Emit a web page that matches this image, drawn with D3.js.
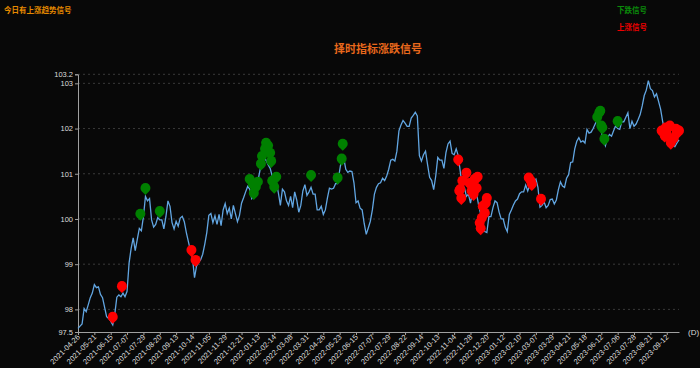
<!DOCTYPE html>
<html>
<head>
	<meta charset="utf-8">
	<script src="https://cdnjs.cloudflare.com/ajax/libs/d3/7.8.5/d3.min.js"></script>
	<style>
	body { margin: 0; background: #080808; }
	svg { display: block; }
	.axis text { font: 7.5px "Liberation Sans", Arial, sans-serif; fill: #dcdcdc; }
	.cn { font-family: "Noto Sans CJK SC", sans-serif; font-weight: bold; }
	</style>
</head>
<body>
	<svg width="700" height="368"></svg>
	<script>
	// tick labels on the category axis, one every 16 trading days
	const tickDates = ["2021-04-26","2021-05-21","2021-06-15","2021-07-07","2021-07-29","2021-08-20","2021-09-13",
		"2021-10-14","2021-11-05","2021-11-29","2021-12-21","2022-01-13","2022-02-14","2022-03-08","2022-03-31",
		"2022-04-26","2022-05-23","2022-06-15","2022-07-07","2022-07-29","2022-08-22","2022-09-14","2022-10-13",
		"2022-11-04","2022-11-28","2022-12-20","2023-01-12","2023-02-10","2023-03-07","2023-03-29","2023-04-21",
		"2023-05-18","2023-06-12","2023-07-06","2023-07-28","2023-08-21","2023-09-12"];
	const tickStep = 16;
	const dayCount = 589;

	const yTicks = [97.5, 98, 99, 100, 101, 102, 103, 103.2];

	// index value, read every 2nd trading day
	const lineStep = 2;
	const indexValues = [
		97.58, 97.63, 97.68, 98.02, 97.95, 98.10, 98.26, 98.36, 98.55, 98.48,
		98.50, 98.33, 98.26, 98.05, 97.84, 97.80, 97.74, 97.66, 97.90, 98.27,
		98.32, 98.28, 98.36, 98.28, 98.40, 99.03, 99.35, 99.58, 99.30, 99.55,
		99.79, 99.74, 100.05, 100.50, 100.40, 100.45, 99.98, 99.82, 99.88, 100.03,
		99.98, 99.98, 99.78, 100.05, 100.40, 100.28, 99.92, 99.78, 99.95, 99.84,
		100.02, 100.06, 99.94, 99.70, 99.50, 99.30, 99.14, 98.70, 98.96, 99.04,
		99.10, 99.22, 99.44, 99.70, 100.08, 100.12, 99.92, 100.07, 99.88, 100.10,
		99.85, 100.20, 100.34, 100.12, 100.24, 100.00, 100.30, 100.12, 99.94, 100.08,
		100.35, 100.47, 100.60, 100.72, 100.66, 100.45, 100.52, 100.66, 100.84, 101.07,
		101.30, 101.35, 101.30, 101.20, 101.12, 100.95, 100.74, 100.82, 100.58, 100.30,
		100.66, 100.60, 100.40, 100.30, 100.50, 100.25, 100.60, 100.42, 100.15, 100.30,
		100.62, 100.76, 100.52, 100.60, 100.70, 100.55, 100.55, 100.20, 100.20, 100.28,
		100.10, 100.20, 100.46, 100.68, 100.66, 100.68, 100.78, 100.78, 101.07, 101.35,
		101.35, 101.10, 101.03, 101.06, 101.05, 100.80, 100.36, 100.40, 100.24, 100.20,
		99.90, 99.66, 99.80, 99.95, 100.20, 100.55, 100.70, 100.78, 100.80, 100.90,
		100.85, 100.95, 101.10, 101.30, 101.32, 101.28, 101.50, 101.95, 102.08, 102.18,
		102.12, 102.05, 102.05, 102.23, 102.29, 102.36, 102.28, 101.40, 101.28, 101.42,
		101.50, 101.20, 100.92, 100.85, 100.65, 100.95, 101.36, 101.30, 101.30, 101.12,
		101.47, 101.66, 101.72, 101.45, 101.42, 101.55, 101.40, 101.05, 100.70, 100.70,
		100.50, 100.55, 100.35, 100.60, 100.76, 100.55, 100.30, 100.10, 99.88, 99.72,
		99.70, 100.05, 100.05, 100.25, 100.40, 100.36, 100.15, 100.00, 100.00, 99.82,
		99.72, 100.10, 100.20, 100.31, 100.40, 100.44, 100.56, 100.60, 100.60, 100.75,
		100.62, 100.75, 100.83, 100.83, 100.88, 100.70, 100.26, 100.30, 100.38, 100.25,
		100.30, 100.43, 100.44, 100.33, 100.42, 100.65, 100.82, 100.73, 100.70, 100.90,
		100.98, 101.25, 101.26, 101.55, 101.72, 101.80, 101.70, 101.73, 101.68, 101.98,
		101.90, 101.92, 102.00, 102.10, 102.20, 102.06, 101.93, 101.75, 101.62, 101.80,
		101.87, 101.83, 101.95, 102.06, 102.00, 101.98, 102.15, 102.15, 102.25, 102.35,
		102.00, 102.16, 102.05, 102.10, 102.20, 102.31, 102.50, 102.73, 102.85, 103.06,
		102.88, 102.84, 102.70, 102.77, 102.60, 102.43, 102.16, 101.95, 101.76, 101.82,
		101.72, 101.65, 101.60, 101.68, 101.75
	];

	// [trading day index, value]
	const fallSignals = [
		[61, 99.96], [66, 100.53], [80, 100.02],
		[168, 100.73], [171, 100.62], [172, 100.42], [174, 100.56], [176, 100.67], [179, 101.07],
		[180, 101.24], [183, 101.40], [184, 101.53], [186, 101.47], [188, 101.31], [189, 101.13],
		[190, 100.69], [192, 100.56], [194, 100.78],
		[228, 100.82], [254, 100.76], [258, 101.18], [259, 101.51],
		[508, 102.10], [510, 102.20], [511, 102.24], [512, 101.91], [513, 101.87], [515, 101.62], [528, 102.01]
	];
	const riseSignals = [
		[34, 97.68], [43, 98.36], [111, 99.16], [115, 98.94],
		[372, 101.16], [373, 100.47], [374, 100.51], [375, 100.31], [376, 100.69], [380, 100.87],
		[383, 100.64], [385, 100.47], [387, 100.40], [388, 100.73], [390, 100.53], [391, 100.78],
		[393, 99.76], [394, 99.64], [395, 99.87], [396, 100.13], [398, 99.98], [399, 100.20], [400, 100.31],
		[441, 100.76], [443, 100.69], [444, 100.62], [453, 100.29],
		[571, 101.80], [574, 101.69], [575, 101.87], [576, 101.73], [579, 101.91], [580, 101.53],
		[583, 101.64], [585, 101.84], [586, 101.76], [588, 101.80]
	];

	let svg = d3.select("svg"),
		margin = {top: 74.3, right: 21, bottom: 36, left: 78},
		width = 700 - margin.left - margin.right,
		height = 368 - margin.top - margin.bottom,
		g = svg.append("g").attr("transform", "translate(" + margin.left + "," + margin.top + ")");

	svg.insert("rect", ":first-child").attr("width", 700).attr("height", 368).attr("fill", "#080808");

	let x = d3.scaleLinear().domain([0, dayCount - 1]).range([0, width]),
		y = d3.scaleLinear().domain([97.5, 103.2]).range([height, 0]);

	//grid lines
	g.append("g").selectAll("line")
		.data(yTicks.filter(d => d > 97.5))
		.enter().append("line")
		.attr("x1", 0).attr("x2", width)
		.attr("y1", d => y(d)).attr("y2", d => y(d))
		.attr("stroke", "#3a3a3a").attr("stroke-dasharray", "2,3");

	//y axis
	let yAxis = g.append("g").attr("class", "axis")
		.call(d3.axisLeft(y).tickValues(yTicks).tickFormat(d => d).tickSize(3).tickPadding(2));
	yAxis.selectAll("line, path").attr("stroke", "#a0a0a0");

	//x axis
	let xAxis = g.append("g").attr("class", "axis")
		.attr("transform", "translate(0," + height + ")")
		.call(d3.axisBottom(x).tickValues(tickDates.map((d, i) => i * tickStep))
			.tickFormat((d, i) => tickDates[i]).tickSize(3).tickSizeOuter(0));
	xAxis.selectAll("path, line").attr("stroke", "#a0a0a0");
	xAxis.selectAll(".tick text")
		.attr("text-anchor", "end")
		.attr("dy", 0).attr("y", 0)
		.attr("transform", "translate(2,5.5) rotate(-45)");
	xAxis.append("text")
		.attr("x", width + 9).attr("y", 2.5)
		.attr("text-anchor", "start")
		.style("font-size", "8px")
		.text("(D)");

	//index line
	let line = d3.line()
		.x((d, i) => x(i * lineStep))
		.y(d => y(d));
	g.append("path")
		.datum(indexValues)
		.attr("fill", "none")
		.attr("stroke", "#62a6e2")
		.attr("stroke-width", 1.3)
		.attr("d", line);

	//pin marker, tip on the data point
	const pin = "M0,0L-3.5,-3.43A5,5 0 1,1 3.5,-3.43Z";
	function drawSignals(data, color) {
		g.append("g").selectAll("path")
			.data(data)
			.enter().append("path")
			.attr("d", pin)
			.attr("fill", color)
			.attr("transform", d => "translate(" + x(d[0]) + "," + y(d[1]) + ")");
	}
	drawSignals(fallSignals, "#008000");
	drawSignals(riseSignals, "#ff0000");

	//title and texts
	svg.append("text").attr("class", "cn")
		.attr("x", 378).attr("y", 53)
		.attr("text-anchor", "middle")
		.style("font-size", "11px").attr("fill", "#e8681c")
		.text("择时指标涨跌信号");
	svg.append("text").attr("class", "cn")
		.attr("x", 4).attr("y", 13)
		.style("font-size", "7.5px").attr("fill", "#e68a00")
		.text("今日有上涨趋势信号");
	svg.append("text").attr("class", "cn")
		.attr("x", 617).attr("y", 12.5)
		.style("font-size", "7.5px").attr("fill", "#0a8a0a")
		.text("下跌信号");
	svg.append("text").attr("class", "cn")
		.attr("x", 617).attr("y", 29.5)
		.style("font-size", "7.5px").attr("fill", "#ee0000")
		.text("上涨信号");
	</script>
</body>
</html>
